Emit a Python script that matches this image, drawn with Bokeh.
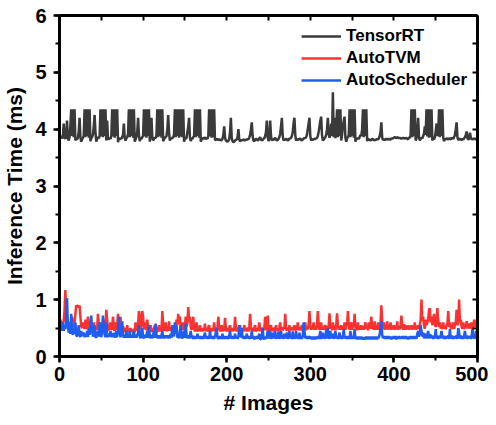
from bokeh.plotting import figure
from bokeh.models import Range1d, LinearAxis, SingleIntervalTicker, FixedTicker, Legend, LegendItem
from bokeh.embed import file_html
from bokeh.resources import INLINE

series_names = ["TensorRT", "AutoTVM", "AutoScheduler"]

tensorrt = [
    3.88, 3.86, 3.84, 3.86, 4.10, 3.85, 3.83, 3.90, 4.15, 3.84,
    3.80, 3.86, 4.05, 4.35, 3.88, 4.35, 3.86, 4.35, 3.80, 3.84,
    3.82, 3.85, 3.95, 4.20, 3.86, 3.78, 3.82, 3.85, 3.88, 4.35,
    3.86, 4.35, 3.88, 4.35, 3.85, 4.35, 3.79, 3.84, 3.86, 3.90,
    4.05, 4.25, 3.95, 3.78, 3.83, 3.86, 3.84, 3.88, 4.35, 3.87,
    4.35, 3.86, 4.35, 3.88, 4.35, 3.80, 4.15, 3.84, 3.82, 3.85,
    3.83, 3.88, 4.35, 3.87, 4.35, 3.85, 4.35, 3.88, 4.35, 3.77,
    3.85, 3.82, 3.84, 3.83, 3.86, 3.90, 4.10, 3.85, 3.80, 3.84,
    3.86, 3.92, 4.35, 3.86, 4.35, 3.88, 4.35, 3.85, 4.35, 3.78,
    3.82, 3.86, 3.95, 4.20, 3.90, 3.79, 3.84, 3.83, 3.86, 3.88,
    4.35, 3.87, 4.35, 3.85, 4.35, 3.88, 4.35, 3.78, 3.88, 4.20,
    3.86, 3.80, 3.83, 3.85, 3.84, 3.90, 4.35, 3.86, 4.35, 3.88,
    4.35, 3.85, 4.35, 3.79, 3.82, 3.85, 3.86, 3.88, 4.00, 4.25,
    3.95, 3.80, 3.84, 3.83, 3.85, 3.86, 3.90, 4.35, 3.86, 4.35,
    3.88, 4.35, 3.85, 4.35, 3.87, 4.35, 3.86, 4.35, 3.78, 3.84,
    3.83, 3.85, 3.95, 4.05, 4.20, 3.86, 3.79, 3.84, 3.83, 3.86,
    3.88, 4.35, 3.86, 4.35, 3.88, 4.35, 3.85, 4.35, 3.78, 3.82,
    3.85, 3.83, 3.84, 3.86, 3.82, 3.85, 3.83, 3.88, 4.35, 3.87,
    4.35, 3.85, 4.35, 3.86, 4.35, 3.80, 3.82, 3.83, 3.81, 3.82,
    3.81, 3.82, 3.80, 3.81, 3.83, 3.90, 4.05, 3.85, 3.80, 3.79,
    3.78, 3.80, 3.82, 3.95, 4.20, 3.85, 3.79, 3.77, 3.78, 3.80,
    3.81, 3.82, 3.86, 4.00, 3.82, 3.79, 3.80, 3.81, 3.80, 3.82,
    3.81, 3.80, 3.82, 3.81, 3.83, 3.82, 3.85, 3.90, 4.00, 4.12,
    3.88, 3.80, 3.79, 3.81, 3.83, 3.82, 3.80, 3.81, 3.84, 3.86,
    3.82, 3.80, 3.81, 3.83, 3.84, 3.88, 3.95, 4.15, 3.86, 3.79,
    3.83, 4.15, 3.88, 3.80, 3.82, 3.81, 3.83, 3.85, 3.82, 3.80,
    3.81, 3.83, 3.86, 3.92, 4.05, 4.20, 3.88, 3.80, 3.82, 3.81,
    3.83, 3.82, 3.80, 3.81, 3.84, 3.83, 3.85, 3.88, 3.95, 4.10,
    4.20, 3.90, 3.80, 3.82, 3.81, 3.83, 3.82, 3.84, 3.81, 3.80,
    3.82, 3.83, 3.85, 3.84, 3.86, 3.90, 4.00, 4.10, 4.20, 3.88,
    3.80, 3.82, 3.81, 3.83, 3.82, 3.84, 3.83, 3.85, 3.88, 3.95,
    4.05, 4.15, 4.22, 3.90, 3.80, 3.82, 3.84, 3.86, 3.90, 4.00,
    4.20, 3.92, 3.85, 3.90, 4.10, 3.88, 4.65, 3.86, 4.20, 3.84,
    4.00, 4.35, 3.86, 4.35, 3.88, 4.35, 3.80, 3.90, 4.05, 4.15,
    4.22, 3.85, 3.78, 3.84, 3.86, 3.90, 4.35, 3.86, 4.35, 3.88,
    4.35, 3.85, 4.35, 3.78, 3.84, 3.82, 3.85, 3.83, 3.86, 3.90,
    3.88, 4.00, 4.35, 3.86, 4.35, 3.88, 4.35, 3.79, 3.83, 3.81,
    3.82, 3.80, 3.81, 3.83, 3.82, 3.81, 3.80, 3.82, 3.81, 3.83,
    3.82, 3.84, 3.88, 3.95, 4.12, 3.85, 3.81, 3.82, 3.81, 3.82,
    3.83, 3.82, 3.82, 3.83, 3.82, 3.82, 3.84, 3.83, 3.84, 3.85,
    3.86, 3.85, 3.84, 3.86, 3.85, 3.84, 3.85, 3.84, 3.83, 3.84,
    3.85, 3.84, 3.83, 3.85, 3.84, 3.83, 3.82, 3.86, 3.84, 3.90,
    4.35, 3.86, 4.35, 3.88, 4.35, 3.80, 3.84, 3.95, 4.20, 3.86,
    3.80, 3.83, 3.85, 3.84, 3.88, 3.92, 4.05, 3.90, 4.35, 3.87,
    4.35, 3.85, 4.35, 3.86, 4.35, 3.80, 3.84, 3.82, 3.86, 3.95,
    4.10, 3.88, 3.92, 4.35, 3.86, 4.35, 3.88, 4.35, 3.85, 3.79,
    3.83, 3.82, 3.84, 3.83, 3.82, 3.84, 3.83, 3.82, 3.85, 3.84,
    3.83, 3.86, 3.90, 4.00, 4.12, 3.86, 3.81, 3.82, 3.83, 3.82,
    3.81, 3.83, 3.82, 3.84, 3.86, 3.90, 3.96, 3.84, 3.82, 3.83,
    3.94, 3.85, 3.82, 3.83, 3.82, 3.84, 3.83, 3.82, 3.83, 3.84,
]

autotvm = [
    0.65, 0.58, 0.52, 0.60, 0.62, 0.80, 1.17, 0.70, 0.55, 0.62,
    0.60, 0.52, 0.58, 0.53, 0.70, 0.55, 0.51, 0.60, 0.75, 0.90,
    0.88, 0.90, 0.86, 0.90, 0.70, 0.53, 0.50, 0.60, 0.52, 0.49,
    0.65, 0.53, 0.48, 0.70, 0.55, 0.49, 0.55, 0.48, 0.54, 0.47,
    0.60, 0.50, 0.46, 0.52, 0.47, 0.75, 0.53, 0.47, 0.60, 0.48,
    0.46, 0.53, 0.65, 0.48, 0.55, 0.82, 0.65, 0.48, 0.46, 0.53,
    0.60, 0.47, 0.52, 0.70, 0.48, 0.45, 0.60, 0.47, 0.54, 0.75,
    0.53, 0.46, 0.70, 0.48, 0.44, 0.53, 0.46, 0.43, 0.50, 0.44,
    0.55, 0.43, 0.49, 0.44, 0.50, 0.43, 0.48, 0.42, 0.49, 0.43,
    0.60, 0.45, 0.50, 0.55, 0.80, 0.70, 0.48, 0.55, 0.80, 0.70,
    0.48, 0.52, 0.60, 0.46, 0.65, 0.49, 0.44, 0.50, 0.55, 0.43,
    0.49, 0.43, 0.50, 0.55, 0.43, 0.48, 0.43, 0.50, 0.55, 0.44,
    0.49, 0.44, 0.80, 0.55, 0.45, 0.50, 0.60, 0.44, 0.50, 0.45,
    0.62, 0.46, 0.51, 0.45, 0.50, 0.55, 0.46, 0.52, 0.47, 0.65,
    0.55, 0.75, 0.58, 0.70, 0.52, 0.47, 0.53, 0.60, 0.46, 0.52,
    0.70, 0.52, 0.58, 0.87, 0.62, 0.70, 0.52, 0.47, 0.53, 0.70,
    0.49, 0.44, 0.51, 0.60, 0.44, 0.50, 0.45, 0.55, 0.44, 0.50,
    0.44, 0.50, 0.45, 0.58, 0.44, 0.50, 0.44, 0.51, 0.55, 0.43,
    0.50, 0.44, 0.50, 0.45, 0.60, 0.44, 0.50, 0.44, 0.52, 0.70,
    0.50, 0.44, 0.50, 0.55, 0.44, 0.50, 0.45, 0.68, 0.50, 0.44,
    0.50, 0.44, 0.50, 0.55, 0.45, 0.50, 0.44, 0.50, 0.45, 0.70,
    0.50, 0.44, 0.51, 0.44, 0.55, 0.44, 0.50, 0.44, 0.50, 0.44,
    0.55, 0.45, 0.50, 0.44, 0.51, 0.44, 0.50, 0.75, 0.52, 0.45,
    0.50, 0.44, 0.51, 0.55, 0.44, 0.50, 0.45, 0.51, 0.60, 0.45,
    0.50, 0.44, 0.51, 0.46, 0.50, 0.70, 0.50, 0.46, 0.72, 0.50,
    0.45, 0.51, 0.55, 0.45, 0.50, 0.44, 0.51, 0.46, 0.55, 0.45,
    0.50, 0.45, 0.51, 0.60, 0.46, 0.51, 0.46, 0.52, 0.48, 0.75,
    0.50, 0.45, 0.51, 0.45, 0.55, 0.46, 0.51, 0.46, 0.52, 0.46,
    0.55, 0.46, 0.51, 0.47, 0.60, 0.46, 0.52, 0.46, 0.51, 0.55,
    0.46, 0.52, 0.47, 0.60, 0.46, 0.53, 0.48, 0.55, 0.80, 0.55,
    0.47, 0.53, 0.48, 0.60, 0.47, 0.53, 0.47, 0.55, 0.80, 0.56,
    0.47, 0.53, 0.60, 0.47, 0.53, 0.47, 0.53, 0.55, 0.46, 0.53,
    0.48, 0.55, 0.76, 0.49, 0.53, 0.46, 0.60, 0.47, 0.54, 0.46,
    0.55, 0.76, 0.55, 0.47, 0.53, 0.47, 0.55, 0.47, 0.53, 0.47,
    0.60, 0.47, 0.54, 0.55, 0.80, 0.55, 0.47, 0.54, 0.60, 0.47,
    0.54, 0.55, 0.75, 0.49, 0.54, 0.46, 0.60, 0.47, 0.53, 0.47,
    0.55, 0.47, 0.53, 0.47, 0.54, 0.60, 0.49, 0.54, 0.46, 0.60,
    0.49, 0.55, 0.70, 0.49, 0.54, 0.47, 0.62, 0.47, 0.53, 0.47,
    0.60, 0.47, 0.54, 0.58, 0.90, 0.60, 0.49, 0.60, 0.47, 0.54,
    0.48, 0.62, 0.47, 0.54, 0.48, 0.60, 0.47, 0.54, 0.48, 0.55,
    0.47, 0.54, 0.48, 0.62, 0.47, 0.54, 0.48, 0.55, 0.72, 0.55,
    0.47, 0.54, 0.56, 0.47, 0.54, 0.48, 0.55, 0.47, 0.54, 0.48,
    0.55, 0.47, 0.54, 0.48, 0.60, 0.47, 0.54, 0.48, 0.55, 0.49,
    0.55, 0.65, 1.00, 0.62, 0.70, 0.55, 0.49, 0.65, 0.55, 0.60,
    0.65, 0.82, 0.85, 0.60, 0.70, 0.55, 0.60, 0.75, 0.58, 0.52,
    0.60, 0.85, 0.62, 0.52, 0.60, 0.49, 0.55, 0.48, 0.60, 0.49,
    0.55, 0.48, 0.55, 0.58, 0.80, 0.52, 0.60, 0.49, 0.55, 0.48,
    0.60, 0.49, 0.55, 0.58, 0.82, 0.55, 0.62, 1.00, 0.60, 0.65,
    0.52, 0.49, 0.60, 0.48, 0.55, 0.52, 0.62, 0.49, 0.55, 0.58,
    0.49, 0.55, 0.60, 0.48, 0.53, 0.65, 0.52, 0.55, 0.58, 0.75,
]

autoscheduler = [
    0.50, 0.55, 0.45, 0.60, 0.45, 0.55, 0.48, 0.65, 1.03, 0.55,
    0.42, 0.50, 0.40, 0.75, 0.45, 0.38, 0.50, 0.40, 0.60, 0.38,
    0.35, 0.42, 0.55, 0.38, 0.34, 0.45, 0.36, 0.40, 0.42, 0.34,
    0.40, 0.35, 0.45, 0.34, 0.50, 0.38, 0.60, 0.72, 0.45, 0.35,
    0.40, 0.55, 0.35, 0.33, 0.40, 0.45, 0.35, 0.60, 0.40, 0.34,
    0.45, 0.72, 0.50, 0.38, 0.34, 0.60, 0.42, 0.34, 0.39, 0.35,
    0.45, 0.34, 0.39, 0.40, 0.34, 0.42, 0.33, 0.45, 0.34, 0.50,
    0.70, 0.42, 0.34, 0.40, 0.62, 0.38, 0.33, 0.38, 0.33, 0.45,
    0.33, 0.38, 0.33, 0.45, 0.33, 0.38, 0.33, 0.38, 0.45, 0.33,
    0.38, 0.33, 0.38, 0.42, 0.55, 0.35, 0.32, 0.38, 0.50, 0.34,
    0.32, 0.38, 0.33, 0.38, 0.45, 0.33, 0.55, 0.35, 0.32, 0.38,
    0.32, 0.38, 0.45, 0.33, 0.58, 0.38, 0.32, 0.37, 0.32, 0.37,
    0.32, 0.37, 0.45, 0.32, 0.37, 0.32, 0.37, 0.33, 0.37, 0.32,
    0.37, 0.32, 0.40, 0.33, 0.55, 0.45, 0.35, 0.60, 0.40, 0.55,
    0.33, 0.37, 0.32, 0.45, 0.55, 0.34, 0.32, 0.37, 0.45, 0.33,
    0.58, 0.38, 0.32, 0.37, 0.32, 0.37, 0.45, 0.32, 0.37, 0.31,
    0.36, 0.31, 0.36, 0.31, 0.40, 0.32, 0.36, 0.31, 0.36, 0.31,
    0.36, 0.31, 0.36, 0.42, 0.32, 0.36, 0.31, 0.36, 0.31, 0.45,
    0.32, 0.36, 0.31, 0.36, 0.31, 0.36, 0.42, 0.50, 0.33, 0.31,
    0.36, 0.31, 0.36, 0.31, 0.40, 0.31, 0.36, 0.31, 0.36, 0.31,
    0.36, 0.31, 0.36, 0.45, 0.32, 0.36, 0.31, 0.36, 0.31, 0.40,
    0.32, 0.36, 0.31, 0.36, 0.48, 0.55, 0.33, 0.50, 0.32, 0.36,
    0.31, 0.36, 0.31, 0.40, 0.32, 0.36, 0.31, 0.36, 0.31, 0.45,
    0.32, 0.36, 0.30, 0.35, 0.31, 0.36, 0.31, 0.35, 0.40, 0.31,
    0.30, 0.35, 0.50, 0.33, 0.30, 0.35, 0.31, 0.35, 0.45, 0.32,
    0.35, 0.45, 0.31, 0.36, 0.42, 0.32, 0.36, 0.45, 0.31, 0.36,
    0.32, 0.44, 0.31, 0.36, 0.45, 0.32, 0.36, 0.31, 0.40, 0.32,
    0.36, 0.42, 0.31, 0.36, 0.45, 0.32, 0.36, 0.31, 0.44, 0.31,
    0.36, 0.31, 0.45, 0.32, 0.36, 0.31, 0.42, 0.31, 0.36, 0.31,
    0.36, 0.60, 0.45, 0.32, 0.36, 0.31, 0.36, 0.31, 0.36, 0.31,
    0.35, 0.30, 0.35, 0.30, 0.35, 0.30, 0.35, 0.31, 0.36, 0.31,
    0.36, 0.45, 0.31, 0.36, 0.42, 0.32, 0.36, 0.31, 0.48, 0.32,
    0.50, 0.31, 0.36, 0.45, 0.32, 0.36, 0.40, 0.31, 0.36, 0.45,
    0.32, 0.36, 0.31, 0.36, 0.42, 0.31, 0.36, 0.31, 0.36, 0.48,
    0.32, 0.36, 0.31, 0.36, 0.31, 0.36, 0.31, 0.45, 0.31, 0.36,
    0.31, 0.36, 0.48, 0.31, 0.35, 0.30, 0.35, 0.30, 0.35, 0.30,
    0.35, 0.30, 0.34, 0.30, 0.34, 0.30, 0.35, 0.30, 0.35, 0.30,
    0.35, 0.30, 0.35, 0.30, 0.35, 0.30, 0.35, 0.30, 0.35, 0.30,
    0.35, 0.32, 0.40, 0.50, 0.62, 0.38, 0.32, 0.36, 0.31, 0.36,
    0.31, 0.36, 0.31, 0.36, 0.31, 0.35, 0.30, 0.35, 0.31, 0.36,
    0.31, 0.36, 0.30, 0.35, 0.31, 0.36, 0.31, 0.35, 0.31, 0.36,
    0.31, 0.36, 0.31, 0.36, 0.31, 0.35, 0.30, 0.35, 0.31, 0.36,
    0.31, 0.36, 0.31, 0.36, 0.31, 0.36, 0.31, 0.40, 0.45, 0.35,
    0.40, 0.55, 0.45, 0.35, 0.42, 0.32, 0.37, 0.40, 0.32, 0.37,
    0.45, 0.32, 0.37, 0.38, 0.32, 0.37, 0.31, 0.36, 0.32, 0.48,
    0.32, 0.37, 0.31, 0.36, 0.32, 0.37, 0.45, 0.32, 0.37, 0.31,
    0.36, 0.31, 0.36, 0.32, 0.37, 0.31, 0.48, 0.32, 0.37, 0.31,
    0.36, 0.31, 0.36, 0.32, 0.37, 0.31, 0.50, 0.42, 0.32, 0.37,
    0.31, 0.36, 0.31, 0.36, 0.45, 0.32, 0.37, 0.31, 0.36, 0.32,
    0.36, 0.31, 0.36, 0.48, 0.32, 0.37, 0.31, 0.45, 0.40, 0.36,
]

images = list(range(1, len(tensorrt) + 1))
x_minor_ticks = list(range(0, 501, 50))
y_minor_ticks = [v / 2 for v in range(0, 13)]

colors = ["#3a3a3a", "#ff3030", "#1f5cf0"]
FONT = "Liberation Sans"

p = figure(width=488, height=417, output_backend="svg", toolbar_location=None,
           x_range=Range1d(0, 500), y_range=Range1d(0, 6),
           min_border_left=58, min_border_right=11, min_border_top=15, min_border_bottom=61)
p.xgrid.visible = False
p.ygrid.visible = False
p.outline_line_color = None
p.background_fill_color = "white"
p.border_fill_color = "white"

renderers = []
for data, c in zip([tensorrt, autotvm, autoscheduler], colors):
    r = p.line(images, data, line_color=c, line_width=2.5)
    renderers.append(r)

def base_style(ax):
    ax.axis_line_width = 3
    ax.axis_line_color = "black"
    ax.major_tick_line_width = 2.5
    ax.minor_tick_line_width = 2
    ax.major_tick_line_color = "black"
    ax.minor_tick_line_color = "black"

def label_style(ax, interval, standoff):
    base_style(ax)
    ax.ticker = SingleIntervalTicker(interval=interval, num_minor_ticks=2)
    ax.major_tick_in = 0
    ax.major_tick_out = 6
    ax.minor_tick_in = 0
    ax.minor_tick_out = 4
    ax.major_label_text_font = FONT
    ax.major_label_text_font_style = "bold"
    ax.major_label_text_font_size = "20px"
    ax.major_label_text_color = "black"
    ax.major_label_standoff = standoff
    ax.axis_label_text_font = FONT
    ax.axis_label_text_font_style = "bold"
    ax.axis_label_text_font_size = "21px"
    ax.axis_label_text_color = "black"

xa = p.xaxis[0]
ya = p.yaxis[0]
label_style(xa, 100, 4)
label_style(ya, 1, 7)
xa.axis_label = "# Images"
ya.axis_label = "Inference Time (ms)"
xa.axis_label_standoff = 7
ya.axis_label_standoff = 6

def mirror_axis(minor):
    ax = LinearAxis(ticker=FixedTicker(ticks=[], minor_ticks=minor))
    base_style(ax)
    ax.major_tick_in = 0
    ax.major_tick_out = 0
    ax.minor_tick_in = 5
    ax.minor_tick_out = 0
    ax.major_label_standoff = 0
    ax.axis_label_standoff = 0
    return ax

p.add_layout(mirror_axis(x_minor_ticks), "above")
p.add_layout(mirror_axis(y_minor_ticks), "right")

legend = Legend(items=[LegendItem(label=n, renderers=[r]) for n, r in zip(series_names, renderers)],
                location="top_right")
legend.border_line_color = None
legend.background_fill_alpha = 0
legend.label_text_font = FONT
legend.label_text_font_style = "bold"
legend.label_text_font_size = "17px"
legend.label_text_color = "black"
legend.glyph_width = 40
legend.glyph_height = 22
legend.label_height = 22
legend.spacing = 0
legend.padding = 0
legend.margin = 10
legend.label_standoff = 5
p.add_layout(legend)

open("out.html", "w").write(file_html(p, INLINE))
